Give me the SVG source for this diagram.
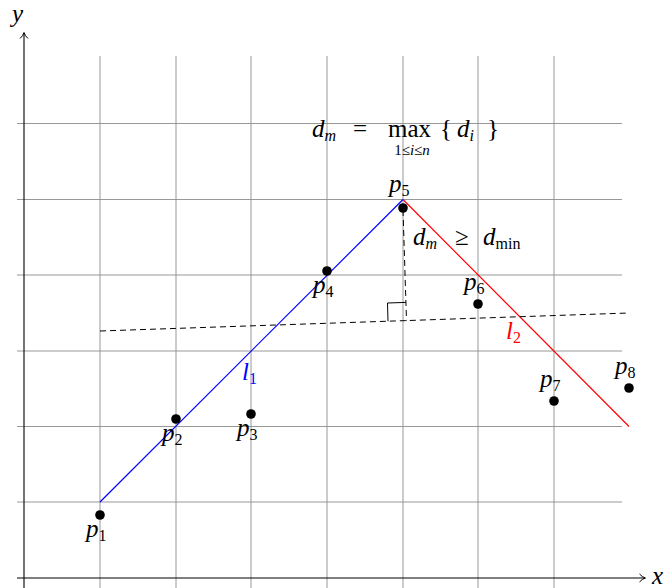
<svg xmlns="http://www.w3.org/2000/svg" width="666" height="588" viewBox="0 0 666 588">
<defs>
<marker id="arr" markerWidth="10" markerHeight="10" refX="7" refY="5" orient="auto" markerUnits="userSpaceOnUse">
<path d="M1.5,1 Q4,4 7.5,5 Q4,6 1.5,9" fill="none" stroke="#000" stroke-width="1"/>
</marker>
</defs>
<style>
.grid{stroke:#8c8c8c;stroke-width:0.9;fill:none}
.ax{stroke:#000;stroke-width:1.1;fill:none}
.pt{fill:#000}
.m{font-family:"Liberation Serif","DejaVu Serif",serif;font-style:italic;font-size:25px;fill:#000}
.r{font-style:normal}
.s{font-size:16px}
</style>
<rect width="666" height="588" fill="#fff"/>
<g id="grid">
<path class="grid" d="M100,56V588M176,56V588M251,56V588M327,56V588M403,56V588M478,56V588M554,56V588"/>
<path class="grid" d="M17,123.5H622M17,199.5H622M17,275H622M17,351H622M17,426.5H622M17,502H622"/>
</g>
<g id="axes">
<line class="ax" x1="17" y1="578" x2="645" y2="578" marker-end="url(#arr)"/>
<line class="ax" x1="24" y1="588" x2="24" y2="33" marker-end="url(#arr)"/>
<text class="m" x="652" y="584">x</text>
<text class="m" x="12" y="22">y</text>
</g>
<g id="connectors">
<line id="l1" x1="100" y1="502" x2="403" y2="199.5" stroke="#0000ff" stroke-width="1.2"/>
<line id="l2" x1="403" y1="199.5" x2="629" y2="426.5" stroke="#ff0000" stroke-width="1.2"/>
<line id="base" x1="100" y1="331" x2="629" y2="313" stroke="#000" stroke-width="1" stroke-dasharray="6,4"/>
<line id="perp" x1="403" y1="210" x2="406.5" y2="320.6" stroke="#000" stroke-width="1" stroke-dasharray="6,4"/>
<polyline points="388,321.2 387.5,303 405.8,302.4" fill="none" stroke="#000" stroke-width="1"/>
</g>
<g id="p1"><circle class="pt" cx="100" cy="515" r="4.8"/><text class="m" x="86" y="537">p<tspan class="s r" dy="4">1</tspan></text></g>
<g id="p2"><circle class="pt" cx="176" cy="419" r="4.8"/><text class="m" x="162" y="441">p<tspan class="s r" dy="4">2</tspan></text></g>
<g id="p3"><circle class="pt" cx="251" cy="414" r="4.8"/><text class="m" x="237" y="436">p<tspan class="s r" dy="4">3</tspan></text></g>
<g id="p4"><circle class="pt" cx="327" cy="271" r="4.8"/><text class="m" x="313" y="293">p<tspan class="s r" dy="4">4</tspan></text></g>
<g id="p5"><circle class="pt" cx="403" cy="208" r="4.8"/><text class="m" x="389" y="192">p<tspan class="s r" dy="4">5</tspan></text></g>
<g id="p6"><circle class="pt" cx="478" cy="304" r="4.8"/><text class="m" x="464" y="290">p<tspan class="s r" dy="4">6</tspan></text></g>
<g id="p7"><circle class="pt" cx="554" cy="401" r="4.8"/><text class="m" x="540" y="387">p<tspan class="s r" dy="4">7</tspan></text></g>
<g id="p8"><circle class="pt" cx="629" cy="388" r="4.8"/><text class="m" x="615" y="374">p<tspan class="s r" dy="4">8</tspan></text></g>
<g id="labels">
<text class="m" x="242" y="380" style="fill:#0000ff">l<tspan class="s r" dy="4" style="fill:#0000ff">1</tspan></text>
<text class="m" x="506" y="339" style="fill:#ff0000">l<tspan class="s r" dy="4" style="fill:#ff0000">2</tspan></text>
<text class="m" x="413" y="245">d<tspan class="s" dy="4">m</tspan><tspan class="r" dy="-4" x="455">≥</tspan><tspan x="483">d</tspan><tspan class="s r" dy="4">min</tspan></text>
<text class="m" x="312" y="137">d<tspan class="s" dy="4">m</tspan><tspan class="r" dy="-4" x="353">=</tspan><tspan class="r" x="388">max</tspan><tspan class="r" x="440">{</tspan><tspan x="457">d</tspan><tspan class="s" dy="4">i</tspan><tspan class="r" dy="-4" x="487">}</tspan></text>
<text class="m" style="font-size:15px" x="412" y="155" text-anchor="middle"><tspan class="r">1≤</tspan>i<tspan class="r">≤</tspan>n</text>
</g>
</svg>
